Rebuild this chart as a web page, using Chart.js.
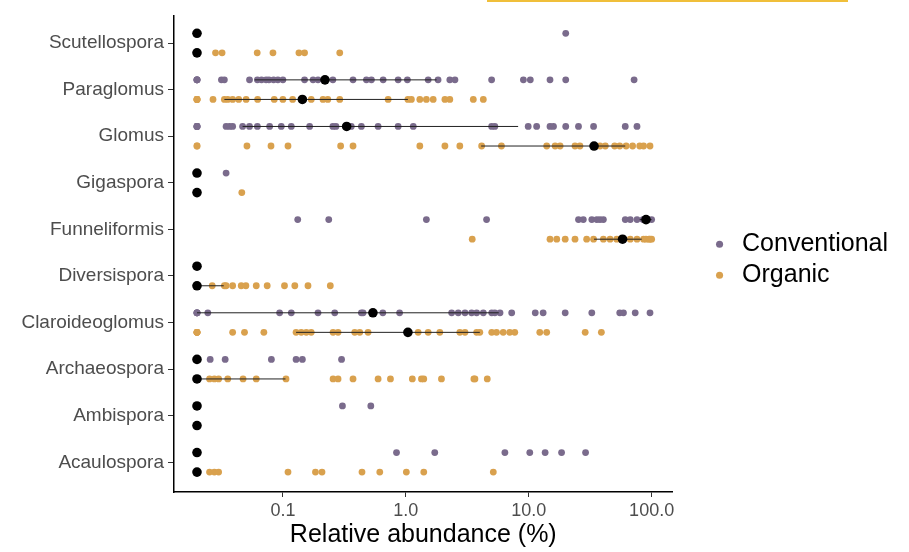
<!DOCTYPE html>
<html>
<head>
<meta charset="utf-8">
<script src="https://cdn.jsdelivr.net/npm/chart.js@4.4.1/dist/chart.umd.min.js"></script>
<style>
  html, body { margin: 0; padding: 0; background: #fff; }
  #wrap { position: relative; width: 909px; height: 552px; }
  #topline { position: absolute; left: 487px; top: 0; width: 361px; height: 2px; background: #f0bf3a; }
</style>
</head>
<body>
<div id="wrap">
  <canvas id="chart"></canvas>
  <div id="topline"></div>
</div>
<script>
// genera, bottom to top
const genera = ["Acaulospora", "Ambispora", "Archaeospora", "Claroideoglomus", "Diversispora",
  "Funneliformis", "Gigaspora", "Glomus", "Paraglomus", "Scutellospora"];

// relative abundance (%) per sample, one list per genus
const conventional = [
  [0, 0, 0, 0, 0, 0, 0.84, 1.72, 6.4, 10.2, 13.6, 18.5, 29],
  [0, 0, 0, 0, 0, 0, 0.305, 0.519],
  [0, 0, 0, 0, 0, 0, 0.0256, 0.0339, 0.0806, 0.128, 0.144, 0.30],
  [0, 0, 0, 0, 0.0245, 0.094, 0.117, 0.193, 0.264, 0.435, 0.449, 0.65, 0.89, 2.36, 2.67, 3.03, 3.43,
    3.77, 4.27, 5.0, 5.3, 5.84, 7.27, 11.3, 13.1, 19.8, 32.6, 55, 59, 73.5, 97],
  [0, 0, 0, 0, 0, 0, 0, 0],
  [0.132, 0.236, 1.47, 4.54, 25.4, 27.8, 32.6, 35.8, 38, 40.5, 61, 67, 76, 85, 93, 100],
  [0, 0, 0, 0, 0, 0, 0.0345],
  [0, 0, 0, 0, 0.0345, 0.0368, 0.039, 0.047, 0.0535, 0.062, 0.078, 0.097, 0.117, 0.165, 0.255, 0.27,
    0.36, 0.435, 0.595, 0.866, 1.15, 4.99, 5.3, 9.9, 11.6, 14.9, 15.9, 20, 25.4, 33.7, 61, 76],
  [0, 0, 0, 0, 0.0316, 0.0334, 0.0535, 0.062, 0.067, 0.073, 0.077, 0.084, 0.091, 0.1, 0.15, 0.176,
    0.193, 0.255, 0.372, 0.478, 0.525, 0.654, 0.866, 1.03, 1.52, 1.83, 2.28, 2.51, 4.99, 9.05, 10.3,
    14.9, 20, 72],
  [0, 0, 0, 0, 0, 0, 20]
];

const organic = [
  [0, 0, 0, 0, 0, 0.0253, 0.0277, 0.030, 0.11, 0.184, 0.208, 0.44, 0.614, 1.01, 1.40, 5.15],
  [0, 0, 0, 0, 0, 0],
  [0, 0, 0, 0, 0, 0.0253, 0.0277, 0.030, 0.0356, 0.0474, 0.0607, 0.106, 0.256, 0.281, 0.372, 0.595,
    0.75, 1.13, 1.34, 1.40, 1.95, 3.58, 3.65, 4.6],
  [0, 0, 0, 0, 0.039, 0.0487, 0.07, 0.128, 0.141, 0.155, 0.17, 0.256, 0.281, 0.384, 0.422, 0.493,
    1.26, 1.52, 1.89, 2.75, 3.03, 3.77, 4.0, 5.0, 5.47, 6.2, 7.0, 7.7, 12.3, 14, 28.8, 39],
  [0, 0, 0, 0, 0, 0.0266, 0.0334, 0.0345, 0.039, 0.0458, 0.050, 0.0607, 0.0745, 0.103, 0.125, 0.16, 0.243],
  [3.47, 14.9, 16.9, 19.8, 23.8, 29.6, 33.7, 40.5, 45.9, 52, 67, 76, 86, 90, 95, 97, 100],
  [0, 0, 0, 0, 0, 0.0463],
  [0, 0, 0.051, 0.080, 0.11, 0.295, 0.372, 1.30, 2.08, 2.75, 4.14, 6.0, 14, 16.4, 18, 23.8, 26.1,
    38, 42, 50, 55, 62, 70, 80, 86, 97],
  [0, 0, 0, 0, 0.027, 0.0334, 0.0356, 0.039, 0.0437, 0.0502, 0.0623, 0.085, 0.1, 0.12, 0.17, 0.212,
    0.232, 0.29, 0.718, 1.04, 1.11, 1.30, 1.47, 1.67, 2.08, 2.28, 3.54, 4.27],
  [0, 0, 0, 0, 0, 0.0283, 0.032, 0.0618, 0.083, 0.135, 0.150, 0.29]
];

// medians and interquartile ranges
const convMedian = [0, 0, 0, 0.54, 0, 90, 0, 0.33, 0.22, 0];
const convQ1 = [0, 0, 0, 0, 0, 80, 0, 0.047, 0.059, 0];
const convQ3 = [0, 0, 0, 5.7, 0, 100, 0, 8.2, 1.78, 0];
const orgMedian = [0, 0, 0, 1.04, 0, 58, 0, 34, 0.144, 0];
const orgQ1 = [0, 0, 0, 0.128, 0, 34, 0, 4.1, 0.0334, 0];
const orgQ3 = [0, 0, 0.105, 4.0, 0.033, 83, 0, 61, 1.04, 0];

const xTicks = [0.1, 1, 10, 100];

const ZERO_AT = 0.02;   // zeros can't go on a log axis, park them at the left
const SHIFT = 0.21;     // conventional above the tick, organic below

const pos = v => (v > 0 ? v : ZERO_AT);

function toPoints(groups, shift) {
  const pts = [];
  groups.forEach((vals, i) => vals.forEach(v => pts.push({ x: pos(v), y: i + shift })));
  return pts;
}

function medianPoints(med, shift) {
  return med.map((v, i) => ({ x: pos(v), y: i + shift }));
}

function rangeSegments(q1, q3, shift) {
  const pts = [];
  q1.forEach((lo, i) => {
    if (lo === q3[i]) return;
    pts.push({ x: pos(lo), y: i + shift }, { x: pos(q3[i]), y: i + shift }, { x: null, y: null });
  });
  return pts;
}

Chart.defaults.font.family = '"Liberation Sans", Arial, sans-serif';

const ctx = document.getElementById('chart').getContext('2d');
new Chart(ctx, {
  type: 'scatter',
  data: {
    datasets: [
      {
        label: 'median',
        data: medianPoints(convMedian, SHIFT).concat(medianPoints(orgMedian, -SHIFT)),
        backgroundColor: '#000', borderWidth: 0, pointRadius: 4.8
      },
      {
        label: 'iqr',
        data: rangeSegments(convQ1, convQ3, SHIFT).concat(rangeSegments(orgQ1, orgQ3, -SHIFT)),
        showLine: true, spanGaps: false, borderColor: '#222', borderWidth: 1, pointRadius: 0
      },
      {
        label: 'Conventional',
        data: toPoints(conventional, SHIFT),
        backgroundColor: '#7a6b8c', borderWidth: 0, pointRadius: 3.4, pointStyle: 'circle'
      },
      {
        label: 'Organic',
        data: toPoints(organic, -SHIFT),
        backgroundColor: '#d9a14e', borderWidth: 0, pointRadius: 3.4, pointStyle: 'circle'
      }
    ]
  },
  options: {
    responsive: true,
    maintainAspectRatio: false,
    animation: false,
    layout: { padding: { top: 10, left: 0, right: 11, bottom: 0 } },
    plugins: {
      tooltip: { enabled: false },
      legend: {
        position: 'right',
        fullSize: false,
        maxWidth: 240,
        title: { display: true, text: ' ', font: { size: 10 }, padding: 0 },
        labels: {
          filter: item => item.text === 'Conventional' || item.text === 'Organic',
          usePointStyle: true,
          boxWidth: 20,
          boxHeight: 5,
          padding: 6,
          color: '#000',
          font: { size: 25 }
        }
      }
    },
    scales: {
      x: {
        type: 'logarithmic',
        min: 0.013,
        max: 148,
        afterBuildTicks: s => { s.ticks = xTicks.map(v => ({ value: v })); },
        ticks: {
          callback: v => Number(v).toFixed(1),
          color: '#4d4d4d', font: { size: 18 }, padding: 3, maxRotation: 0, autoSkip: false
        },
        grid: { drawOnChartArea: false, color: '#333', tickLength: 5 },
        border: { color: '#000', width: 1.5 },
        title: {
          display: true, text: 'Relative abundance (%)', color: '#000',
          font: { size: 25 }, padding: { top: 0, bottom: 2 }
        },
        afterFit: s => { s.height = 60; }
      },
      y: {
        type: 'linear',
        min: -0.637,
        max: 9.594,
        afterBuildTicks: s => { s.ticks = genera.map((g, i) => ({ value: i })); },
        ticks: {
          callback: v => genera[v],
          color: '#4d4d4d', font: { size: 19 }, padding: 4, autoSkip: false
        },
        grid: { drawOnChartArea: false, color: '#333', tickLength: 6 },
        border: { color: '#000', width: 1.5 },
        afterFit: s => { s.width = 174; }
      },
      // empty strip between plot and legend
      pad: {
        type: 'linear',
        position: 'right',
        grid: { display: false },
        ticks: { display: false },
        border: { display: false },
        afterFit: s => { s.width = 31; }
      }
    }
  }
});
</script>
</body>
</html>
